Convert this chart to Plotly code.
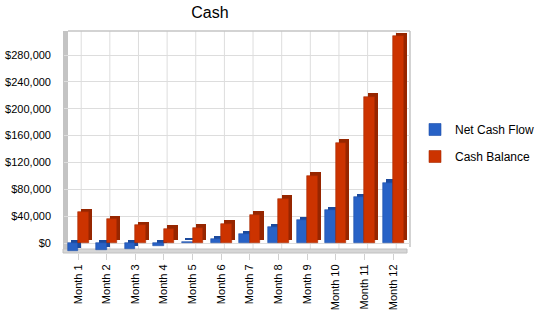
import plotly.graph_objects as go

# ---- data ----
months = ["Month 1", "Month 2", "Month 3", "Month 4", "Month 5", "Month 6",
          "Month 7", "Month 8", "Month 9", "Month 10", "Month 11", "Month 12"]
net_cash_flow = [-12000, -10500, -8800, -5000, 1500, 5900,
                 13400, 23900, 34200, 49200, 68500, 89900]
cash_balance = [45700, 35200, 26400, 21400, 22900, 28800,
                42200, 66100, 100300, 149500, 218000, 307900]
series_names = ["Net Cash Flow", "Cash Balance"]
y_tickvals = [0, 40000, 80000, 120000, 160000, 200000, 240000, 280000]
y_ticktext = ["$" + f"{v:,}" for v in y_tickvals]

# ---- layout geometry (pixels) ----
FW, FH = 550, 318
L, R, T, B = 64, 410, 31, 253
PW, PH = R - L, B - T
zero_px, top_tick_px = 243, 55
units_per_px = 280000 / (zero_px - top_tick_px)
y_range = [-(B - zero_px) * units_per_px, (zero_px - T) * units_per_px]
c0, pitch = 78.0, 28.64
x_range = [(L - c0) / pitch, 11 + (R - (c0 + 11 * pitch)) / pitch]

bar_w = 10.5 / pitch
dx = 3.2 / pitch
dy = 3.2 * units_per_px

x_idx = list(range(len(months)))

blue, blue_dark, blue_edge = "#2862c6", "#1c4a9c", "#1d4fa8"
red, red_dark, red_edge = "#cc3300", "#962600", "#a82a00"

fig = go.Figure()
# depth (side/top faces) then front faces
fig.add_trace(go.Bar(x=x_idx, y=net_cash_flow, base=[dy] * len(x_idx),
                     width=bar_w, offset=-bar_w + dx, marker_color=blue_dark,
                     marker_line_width=0, showlegend=False, hoverinfo="skip",
                     legendgroup="a"))
fig.add_trace(go.Bar(x=x_idx, y=net_cash_flow, width=bar_w, offset=-bar_w,
                     marker_color=blue, marker_line_color=blue_edge,
                     marker_line_width=0.6, name=series_names[0],
                     legendgroup="a"))
fig.add_trace(go.Bar(x=x_idx, y=cash_balance, base=[dy] * len(x_idx),
                     width=bar_w, offset=dx, marker_color=red_dark,
                     marker_line_width=0, showlegend=False, hoverinfo="skip",
                     legendgroup="b"))
fig.add_trace(go.Bar(x=x_idx, y=cash_balance, width=bar_w, offset=0,
                     marker_color=red, marker_line_color=red_edge,
                     marker_line_width=0.6, name=series_names[1],
                     legendgroup="b"))


def px_x(p):
    return (p - L) / PW


def px_y(p):
    return (B - p) / PH


shapes = []
# vertical grid lines on back wall
for i in x_idx:
    shapes.append(dict(type="line", xref="x", yref="paper",
                       x0=i + dx, x1=i + dx, y0=px_y(B - 2), y1=1,
                       line=dict(color="#dddddd", width=1), layer="below"))
# left wall
shapes.append(dict(type="rect", xref="paper", yref="paper",
                   x0=px_x(63), x1=px_x(68), y0=px_y(251), y1=px_y(T),
                   fillcolor="#c4c4c4", line=dict(width=0), layer="between"))
# floor
shapes.append(dict(type="rect", xref="paper", yref="paper",
                   x0=px_x(63), x1=px_x(407), y0=px_y(253), y1=px_y(249),
                   fillcolor="#d6d6d6", line=dict(color="#c0c0c0", width=1),
                   layer="between"))
# back wall top & right border
shapes.append(dict(type="line", xref="paper", yref="paper",
                   x0=px_x(68), x1=1, y0=1, y1=1,
                   line=dict(color="#c4c4c4", width=1.5), layer="between"))
shapes.append(dict(type="line", xref="paper", yref="paper",
                   x0=1, x1=1, y0=px_y(247), y1=1,
                   line=dict(color="#c4c4c4", width=1.5), layer="between"))

fig.update_layout(
    width=FW, height=FH,
    margin=dict(l=L, r=FW - R, t=T, b=FH - B, pad=0, autoexpand=False),
    paper_bgcolor="white", plot_bgcolor="white",
    barmode="overlay",
    font=dict(family="Liberation Sans, Arial, sans-serif", size=11, color="#000000"),
    title=dict(text="Cash", x=210 / FW, xref="container", xanchor="center",
               y=1 - 12 / FH, yref="container", yanchor="middle",
               font=dict(size=16, color="#000000")),
    xaxis=dict(range=x_range, tickmode="array", tickvals=x_idx, ticktext=months,
               tickangle=-90, showgrid=False, zeroline=False, showline=False,
               ticks="outside", ticklen=6, tickcolor="#d0d0d0",
               tickfont=dict(size=11), automargin=False),
    yaxis=dict(range=y_range, tickmode="array", tickvals=y_tickvals,
               ticktext=y_ticktext, showgrid=True,
               gridcolor="#dddddd", gridwidth=1, zeroline=False,
               showline=False, ticks="", ticklabelstandoff=12,
               tickfont=dict(size=11), automargin=False),
    legend=dict(x=(415 - L) / PW, xanchor="left", y=px_y(115), yanchor="top",
                font=dict(size=12), traceorder="grouped", tracegroupgap=8,
                bgcolor="rgba(0,0,0,0)", itemclick=False),
    shapes=shapes,
    bargap=0,
)

fig.write_html("out.html")
